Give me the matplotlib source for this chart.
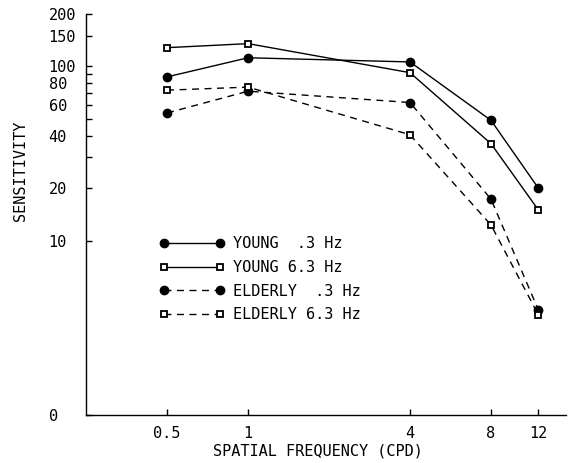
#!/usr/bin/env python3
"""Contrast sensitivity vs spatial frequency - young vs elderly observers"""

import matplotlib
matplotlib.use('Agg')  # Use non-interactive backend
import matplotlib.pyplot as plt
from matplotlib.ticker import FixedLocator, NullLocator

# Spatial frequencies (cycles per degree)
freqs = [0.5, 1, 4, 8, 12]

# Sensitivity values
young_03 = [87, 112, 106, 49, 20]
young_63 = [128, 135, 92, 36, 15]
elderly_03 = [54, 72, 62, 17.3, 4.0]
elderly_63 = [73, 76, 40.5, 12.3, 3.75]

series_labels = ['YOUNG  .3 Hz', 'YOUNG 6.3 Hz', 'ELDERLY  .3 Hz', 'ELDERLY 6.3 Hz']

x_ticks = [0.5, 1, 4, 8, 12]
x_tick_labels = ['0.5', '1', '4', '8', '12']
y_ticks = [1, 10, 20, 30, 40, 50, 60, 70, 80, 90, 100, 150, 200]
y_tick_labels = ['0', '10', '20', '', '40', '', '60', '', '80', '', '100', '150', '200']


def make_plot():
    plt.rcParams['font.family'] = 'DejaVu Sans Mono'
    plt.rcParams['font.size'] = 11

    fig = plt.figure(figsize=(5.74, 4.63), dpi=100)
    ax = fig.add_axes([0.150, 0.104, 0.836, 0.866])

    circ = dict(marker='o', markersize=6, markerfacecolor='black', markeredgecolor='black')
    sq = dict(marker='s', markersize=4.5, markerfacecolor='white', markeredgecolor='black',
              markeredgewidth=1.3)

    ax.plot(freqs, young_03, '-', color='black', lw=1, label=series_labels[0], **circ)
    ax.plot(freqs, young_63, '-', color='black', lw=1, label=series_labels[1], **sq)
    ax.plot(freqs, elderly_03, color='black', lw=1, dashes=(5, 4), label=series_labels[2], **circ)
    ax.plot(freqs, elderly_63, color='black', lw=1, dashes=(5, 4), label=series_labels[3], **sq)

    ax.set_xscale('log')
    ax.set_yscale('log')
    ax.set_xlim(0.25, 15.2)
    ax.set_ylim(1, 200)

    ax.xaxis.set_major_locator(FixedLocator(x_ticks))
    ax.xaxis.set_minor_locator(NullLocator())
    ax.set_xticklabels(x_tick_labels)
    ax.yaxis.set_major_locator(FixedLocator(y_ticks))
    ax.yaxis.set_minor_locator(NullLocator())
    ax.set_yticklabels(y_tick_labels)
    for lbl in ax.get_yticklabels():
        lbl.set_horizontalalignment('left')

    ax.tick_params(axis='both', direction='in', length=4, width=1, colors='black')
    ax.tick_params(axis='y', pad=27)
    ax.tick_params(axis='x', pad=8)

    for side in ['top', 'right']:
        ax.spines[side].set_visible(False)
    for side in ['left', 'bottom']:
        ax.spines[side].set_linewidth(1)

    ax.set_xlabel('SPATIAL FREQUENCY (CPD)')
    ax.xaxis.set_label_coords(0.483, -0.09)
    ax.xaxis.label.set_verticalalignment('center')
    ax.set_ylabel('SENSITIVITY')
    ax.yaxis.set_label_coords(-0.1375, 0.608)
    ax.yaxis.label.set_verticalalignment('center')

    ax.legend(loc='upper left', bbox_to_anchor=(0.152, 0.445), frameon=False,
              numpoints=2, handlelength=4.26, handletextpad=0.6, labelspacing=0.56,
              borderpad=0, borderaxespad=0)

    fig.savefig('out.png', dpi=100)


if __name__ == "__main__":
    make_plot()
